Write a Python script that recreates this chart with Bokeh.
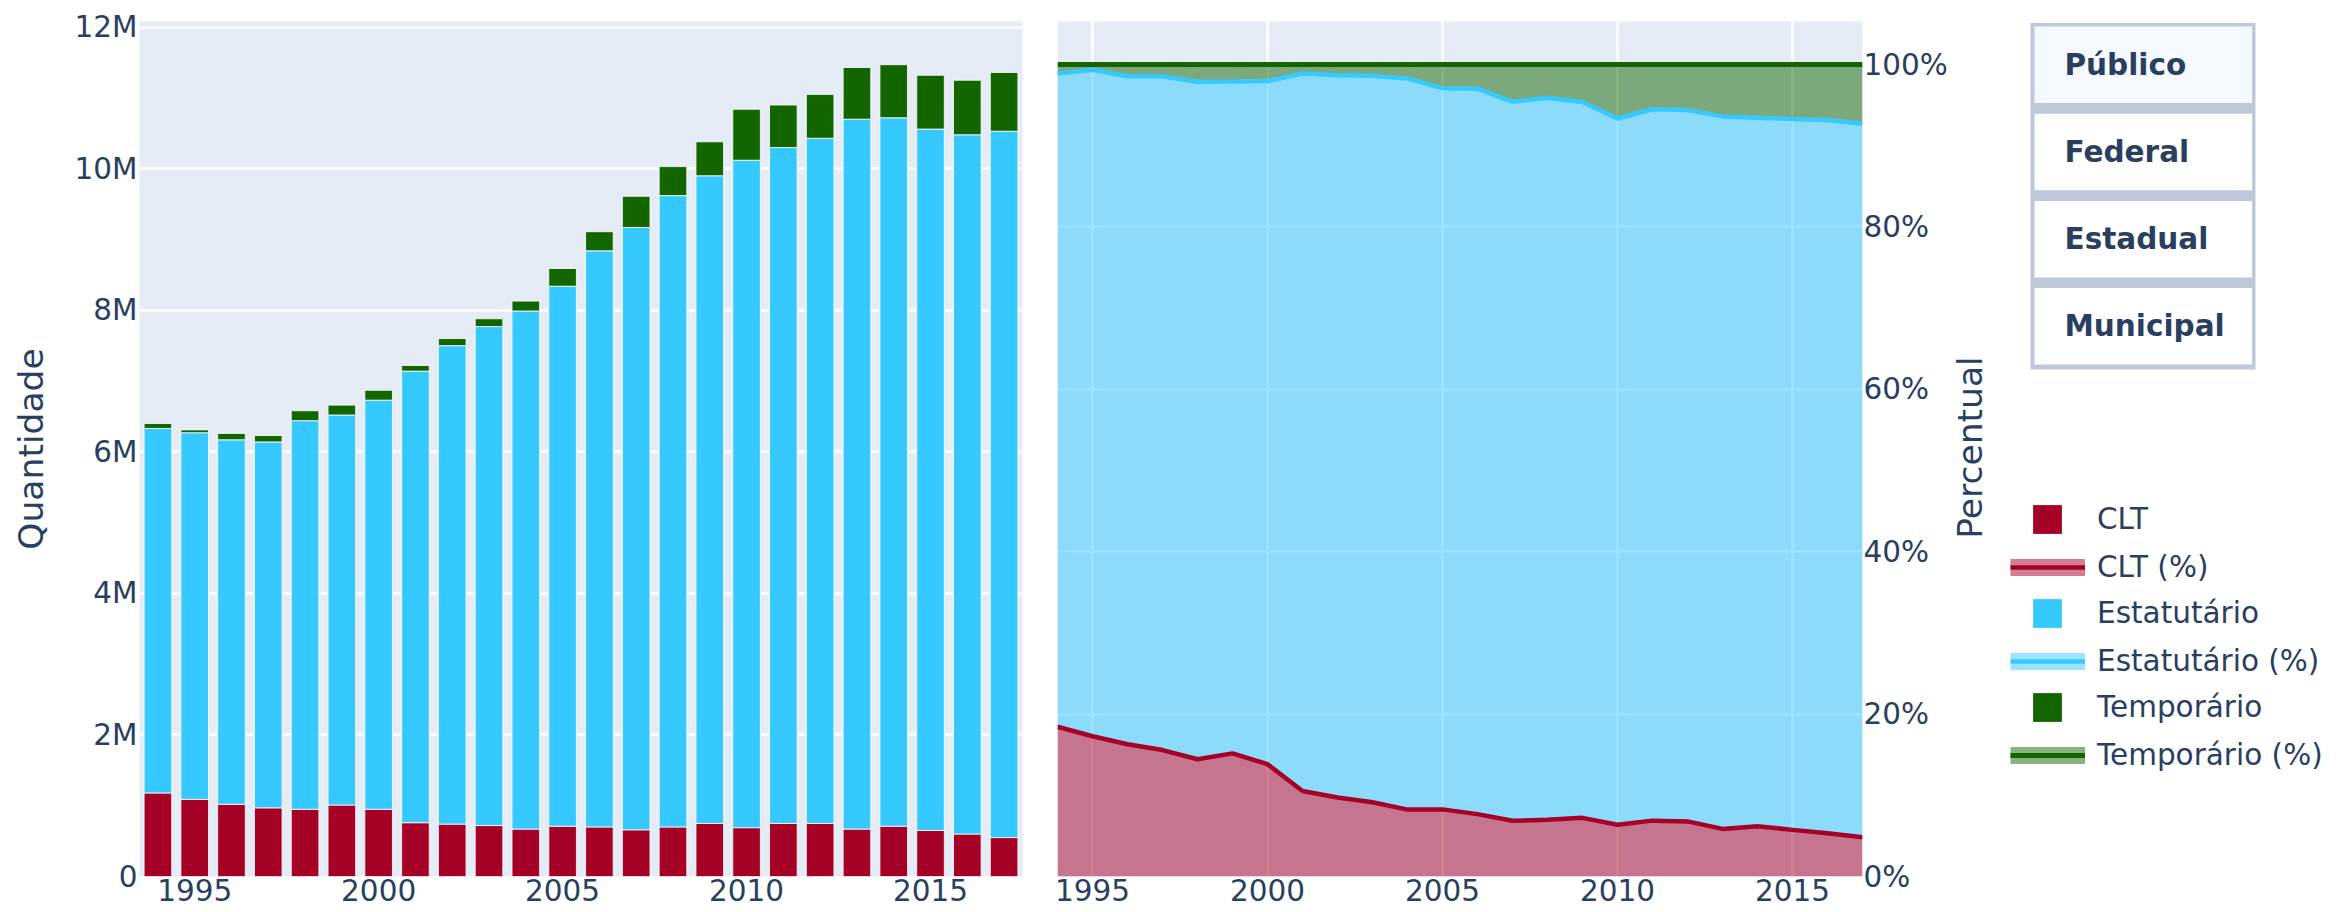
import math
from bokeh.plotting import figure
from bokeh.models import (ColumnDataSource, FixedTicker, Range1d, Legend, LegendItem, Label)
from bokeh.layouts import row
from bokeh.embed import file_html
from bokeh.resources import INLINE
from bokeh.core.properties import value

# ---------------- data ----------------
years = [1994, 1995, 1996, 1997, 1998, 1999, 2000, 2001, 2002, 2003, 2004, 2005,
         2006, 2007, 2008, 2009, 2010, 2011, 2012, 2013, 2014, 2015, 2016, 2017]
clt = [1180000, 1090000, 1020000, 970000, 950000, 1010000, 950000, 760000, 740000, 720000,
       670000, 710000, 700000, 660000, 700000, 750000, 690000, 750000, 750000, 670000,
       710000, 650000, 600000, 550000]
estatutario = [5150000, 5180000, 5150000, 5170000, 5490000, 5510000, 5780000, 6380000,
               6760000, 7050000, 7320000, 7630000, 8140000, 8510000, 8920000, 9150000,
               9430000, 9550000, 9680000, 10030000, 10010000, 9910000, 9880000, 9980000]
temporario = [70000, 40000, 90000, 90000, 140000, 140000, 140000, 80000, 100000, 110000,
              140000, 250000, 270000, 440000, 410000, 480000, 720000, 600000, 620000,
              730000, 750000, 760000, 770000, 830000]

series_names = ["CLT", "Estatutário", "Temporário"]
pct_names = ["CLT (%)", "Estatutário (%)", "Temporário (%)"]
button_labels = ["Público", "Federal", "Estadual", "Municipal"]
x_ticks = [1995, 2000, 2005, 2010, 2015]
y_ticks = [0, 2000000, 4000000, 6000000, 8000000, 10000000, 12000000]
y_tick_labels = ["0", "2M", "4M", "6M", "8M", "10M", "12M"]
pct_ticks = [0.0, 0.2, 0.4, 0.6, 0.8, 1.0]
pct_tick_labels = ["0%", "20%", "40%", "60%", "80%", "100%"]

# ---------------- style ----------------
FONT = "DejaVu Sans"
TXT = "#2a3f5f"
BG = "#E5ECF6"
COLORS = ["#A50026", "#36C9FF", "#136500"]
TICK_FS = "29.5px"
TITLE_FS = "34.5px"

H = 912
TOP = 21
BOTTOM = 36
FRAME_T, FRAME_B = TOP, H - BOTTOM
X1_END = 1040      # end of left canvas
X2_END = 1950      # end of right-chart canvas
TOTAL_W = 2336


def style_axis(ax):
    ax.axis_line_color = None
    ax.major_tick_line_color = None
    ax.minor_tick_line_color = None
    ax.major_tick_out = 0
    ax.major_tick_in = 0
    ax.major_label_text_font = FONT
    ax.major_label_text_font_size = TICK_FS
    ax.major_label_text_color = TXT
    ax.axis_label_text_font = FONT
    ax.axis_label_text_font_size = TITLE_FS
    ax.axis_label_text_font_style = "normal"
    ax.axis_label_text_color = TXT


# ---------------- left: stacked bars ----------------
src = ColumnDataSource(dict(year=years, CLT=clt, Estatutário=estatutario, Temporário=temporario))

p1 = figure(width=X1_END, height=H, x_range=Range1d(1993.5, 2017.5), y_range=Range1d(0, 12.08e6),
            output_backend="svg", toolbar_location=None,
            min_border_left=139, min_border_right=18, min_border_top=TOP, min_border_bottom=BOTTOM)
p1.background_fill_color = BG
p1.border_fill_color = "white"
p1.outline_line_color = None
p1.xgrid.visible = False
p1.ygrid.grid_line_color = "white"
p1.ygrid.grid_line_width = 2.5

p1.vbar_stack(series_names, x="year", width=0.75, fill_color=COLORS, line_color="white",
              line_width=1, line_alpha=0.8, source=src)

p1.xaxis.ticker = FixedTicker(ticks=x_ticks)
p1.yaxis.ticker = FixedTicker(ticks=y_ticks)
p1.yaxis.major_label_overrides = {t: l for t, l in zip(y_ticks, y_tick_labels)}
p1.yaxis.axis_label = "Quantidade"
style_axis(p1.xaxis[0])
style_axis(p1.yaxis[0])
p1.yaxis.axis_label_standoff = 21
p1.xaxis.major_label_standoff = 2
p1.yaxis.major_label_standoff = 2

# ---------------- right: 100% stacked areas ----------------
total = [a + b + c for a, b, c in zip(clt, estatutario, temporario)]
s1 = [a / t for a, t in zip(clt, total)]
s2 = [(a + b) / t for a, b, t in zip(clt, estatutario, total)]
s3 = [(a + b + c) / t for a, b, c, t in zip(clt, estatutario, temporario, total)]
zero = [0.0] * len(years)
src2 = ColumnDataSource(dict(year=years, z=zero, s1=s1, s2=s2, s3=s3))

p2 = figure(width=X2_END - X1_END, height=H, x_range=Range1d(1994, 2017), y_range=Range1d(0, 1.053),
            y_axis_location="right", output_backend="svg", toolbar_location=None,
            min_border_left=17, min_border_right=X2_END - 1870, min_border_top=TOP,
            min_border_bottom=BOTTOM)
p2.background_fill_color = BG
p2.border_fill_color = "white"
p2.outline_line_color = None
p2.xgrid.grid_line_color = "white"
p2.xgrid.grid_line_width = 2.5
p2.ygrid.grid_line_color = "white"
p2.ygrid.grid_line_width = 2.5
p2.xgrid.ticker = FixedTicker(ticks=x_ticks)
p2.ygrid.ticker = FixedTicker(ticks=pct_ticks)

bounds = [("z", "s1"), ("s1", "s2"), ("s2", "s3")]
line_widths = [4.5, 4.5, 5]
for (lo, hi), col in zip(bounds, COLORS):
    p2.varea(x="year", y1=lo, y2=hi, source=src2, fill_color=col, fill_alpha=0.5)
for (lo, hi), col, lw in zip(bounds, COLORS, line_widths):
    p2.line(x="year", y=hi, source=src2, line_color=col, line_width=lw)

p2.xaxis.ticker = FixedTicker(ticks=x_ticks)
p2.yaxis.ticker = FixedTicker(ticks=pct_ticks)
p2.yaxis.major_label_overrides = {t: l for t, l in zip(pct_ticks, pct_tick_labels)}
style_axis(p2.xaxis[0])
style_axis(p2.yaxis[0])
p2.xaxis.major_label_standoff = 2
p2.yaxis.major_label_standoff = 1

# ---------------- side panel: axis title, menu buttons, legend ----------------
# data coordinates of this panel equal page pixels (y grows downward)
p3 = figure(width=TOTAL_W - X2_END, height=H, x_range=Range1d(X2_END, TOTAL_W),
            y_range=Range1d(FRAME_B, FRAME_T), output_backend="svg", toolbar_location=None,
            x_axis_location=None, y_axis_location=None,
            min_border_left=0, min_border_right=0, min_border_top=TOP, min_border_bottom=BOTTOM)
p3.grid.visible = False
p3.outline_line_color = None
p3.background_fill_color = "white"
p3.border_fill_color = "white"

p3.add_layout(Label(x=1969, y=447, text="Percentual", angle=math.pi / 2, text_align="center",
                    text_baseline="middle", text_font=FONT, text_font_size=TITLE_FS,
                    text_color=TXT))

# update-menu buttons
MENU_L, MENU_R, MENU_T, MENU_B = 2030, 2255, 22.5, 369
BTN_L, BTN_R = 2034, 2251.5
BTN_T0, BTN_PITCH, BTN_H = 26, 87.2, 76.5
p3.quad(left=[MENU_L], right=[MENU_R], top=[MENU_T], bottom=[MENU_B],
        fill_color="#BEC8D9", line_color=None)
n_btn = len(button_labels)
btn_tops = [BTN_T0 + BTN_PITCH * i for i in range(n_btn)]
btn_src = ColumnDataSource(dict(
    left=[BTN_L] * n_btn, right=[BTN_R] * n_btn, top=btn_tops,
    bottom=[t + BTN_H for t in btn_tops],
    fill=["#F4FAFF"] + ["white"] * (n_btn - 1),
    tx=[2064] * n_btn, ty=[t + BTN_H / 2 for t in btn_tops], label=button_labels))
p3.quad(left="left", right="right", top="top", bottom="bottom", fill_color="fill",
        line_color=None, source=btn_src)
p3.text(x="tx", y="ty", text="label", source=btn_src, text_align="left",
        text_baseline="middle", text_font=value(FONT), text_font_size=value(TICK_FS),
        text_font_style="bold", text_color=TXT)

# legend (proxy glyphs that carry the traces' styling)
nan = float("nan")
bar_proxies = [p3.vbar(x=[nan], top=[nan], width=0.5, fill_color=c, line_color=None)
               for c in COLORS]
fill_proxies = [p3.line(x=[nan, nan], y=[nan, nan], line_color=c, line_alpha=0.5, line_width=17)
                for c in COLORS]
line_proxies = [p3.line(x=[nan, nan], y=[nan, nan], line_color=c, line_width=lw)
                for c, lw in zip(COLORS, line_widths)]

common = dict(padding=0, margin=0, border_line_color=None, background_fill_alpha=0,
              label_text_font=FONT, label_text_font_size=TICK_FS, label_text_color=TXT,
              spacing=58, glyph_height=36)
legA = Legend(items=[LegendItem(label=n, renderers=[r]) for n, r in zip(series_names, bar_proxies)],
              location=(2029 - X2_END, FRAME_B - 725), glyph_width=36, label_standoff=32, **common)
legB = Legend(items=[LegendItem(label=n, renderers=[f, l])
                     for n, f, l in zip(pct_names, fill_proxies, line_proxies)],
              location=(2010 - X2_END, FRAME_B - 773), glyph_width=75, label_standoff=12, **common)
p3.add_layout(legA)
p3.add_layout(legB)

layout = row(p1, p2, p3)
open("out.html", "w").write(file_html(layout, INLINE))
